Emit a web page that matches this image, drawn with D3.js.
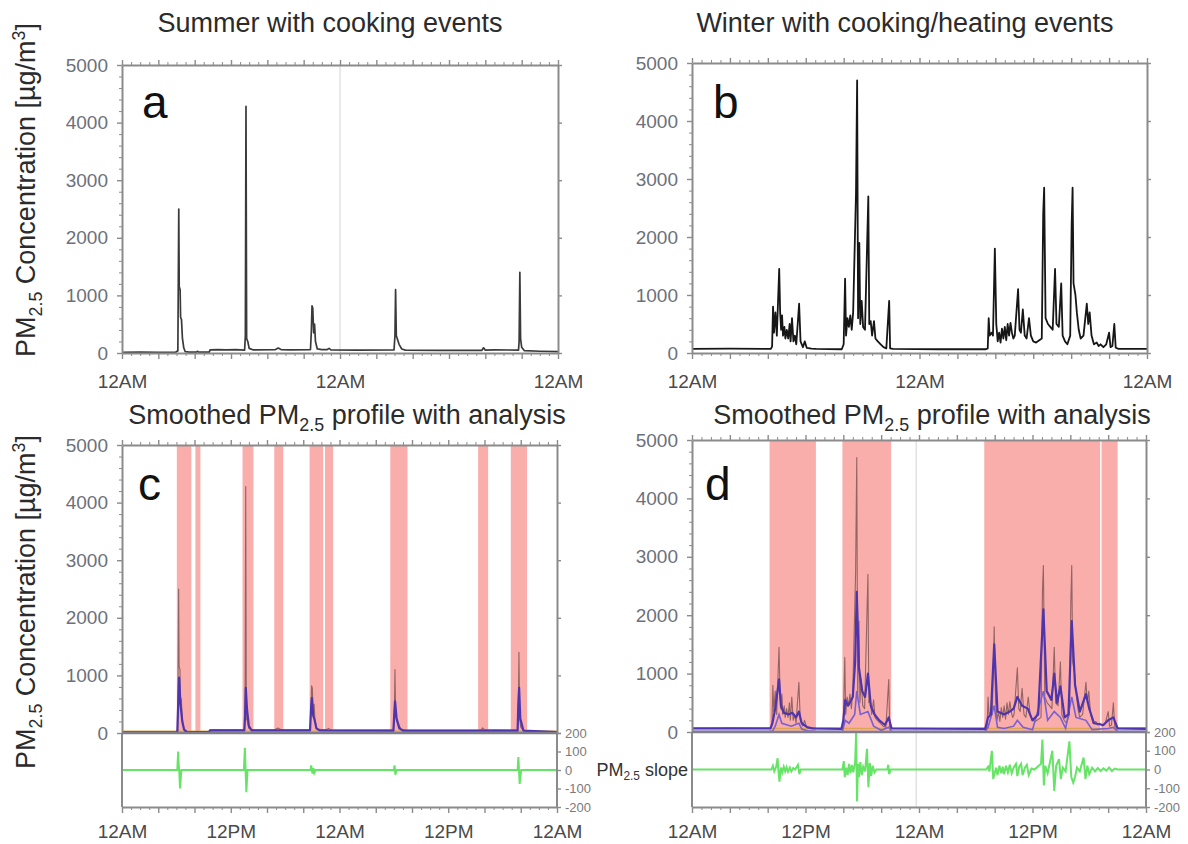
<!DOCTYPE html>
<html>
<head>
<meta charset="utf-8">
<script src="https://cdn.jsdelivr.net/npm/d3@7"></script>
<style>
  body { margin: 0; background: #fff; }
  svg { display: block; }
</style>
</head>
<body>
<div id="chart"></div>
<script>
// ---- data (hours since first midnight, PM2.5 in ug/m3) ----
const summerRaw = [
  [0,12],[2,14],[4,10],[5.9,12],[6.15,40],[6.25,2500],[6.3,1150],[6.4,1100],[6.45,620],[6.55,580],[6.65,260],[6.8,90],[6.95,25],
  [7.4,15],[8.2,15],[8.3,30],[8.45,15],[9.6,15],[9.7,55],[10.5,60],[11.5,55],[12.5,60],[13.5,50],[13.58,300],[13.65,4280],
  [13.72,250],[13.85,200],[14.0,80],[14.4,55],[16.9,60],[17.2,85],[17.5,60],[18.5,55],[20.75,60],[20.85,400],[20.92,820],
  [21.0,780],[21.1,350],[21.2,500],[21.3,200],[21.5,70],[22.0,60],[22.6,60],[22.8,80],[23.0,55],[26,50],[29.95,55],[30.05,300],
  [30.12,1100],[30.2,300],[30.3,250],[30.5,150],[30.8,70],[31.2,50],[35,45],[39.6,45],[39.8,90],[40.0,50],[41,55],[43.65,50],
  [43.72,200],[43.8,1400],[43.88,250],[44.0,100],[44.3,40],[46,30],[48,25]
];
const summerSmooth = [
  [0,10],[6.1,10],[6.22,600],[6.3,960],[6.45,500],[6.65,200],[6.85,60],[7.2,15],[9.6,15],[9.7,45],[13.5,45],[13.58,300],
  [13.66,785],[13.8,400],[14.0,120],[14.3,45],[20.75,45],[20.87,450],[20.95,610],[21.1,300],[21.25,230],[21.45,80],[21.8,45],
  [29.95,40],[30.05,350],[30.13,550],[30.3,250],[30.6,80],[31.0,40],[43.65,40],[43.73,500],[43.82,785],[43.95,250],[44.3,40],[48,15]
];
const summerBase = [[0,30],[48,30]];
const summerBands = [[6.05,7.65],[8.1,8.65],[13.3,14.5],[16.8,17.8],[20.7,22.2],[22.4,23.3],[29.6,31.5],[39.3,40.4],[42.9,44.7]];
const summerSlope = [
  [0,0],[6.1,0],[6.2,100],[6.27,15],[6.32,-5],[6.4,-100],[6.55,0],[13.45,0],[13.56,120],[13.63,10],[13.72,-120],[13.85,0],
  [20.8,0],[20.88,25],[20.95,0],[21.02,-20],[21.12,10],[21.22,-15],[21.35,0],[30.0,0],[30.08,25],[30.16,-25],[30.3,0],
  [43.65,0],[43.74,70],[43.8,5],[43.88,-75],[44.05,0],[48,0]
];

const winterRaw = [
  [0,70],[4,75],[8.3,70],[8.45,110],[8.55,800],[8.65,350],[8.8,700],[8.95,300],[9.2,1450],[9.3,700],[9.4,400],[9.5,650],
  [9.6,300],[9.75,450],[9.85,250],[10.0,400],[10.15,250],[10.3,500],[10.4,200],[10.55,600],[10.7,200],[10.85,300],[11.0,150],
  [11.3,850],[11.45,200],[11.7,100],[11.9,200],[12.1,90],[12.6,75],[13.1,70],[15.8,65],[16.0,150],[16.15,1280],[16.25,300],
  [16.4,600],[16.55,450],[16.7,650],[16.85,400],[17.0,700],[17.3,2750],[17.42,4700],[17.52,600],[17.65,1900],[17.75,500],
  [17.9,900],[18.05,450],[18.25,400],[18.6,2700],[18.7,500],[18.85,550],[19.0,300],[19.2,550],[19.35,250],[19.6,200],
  [19.9,150],[20.2,100],[20.5,80],[20.8,900],[20.9,80],[21.2,70],[26,65],[31.0,65],[31.2,80],[31.3,600],[31.4,300],[31.6,350],
  [31.75,300],[31.95,1800],[32.1,500],[32.25,200],[32.4,350],[32.55,180],[32.7,420],[32.85,250],[33.0,450],[33.15,220],
  [33.3,500],[33.45,300],[33.6,520],[33.75,350],[33.9,250],[34.05,300],[34.4,1100],[34.55,400],[34.7,350],[34.9,750],
  [35.1,300],[35.3,250],[35.55,600],[35.75,300],[36.0,200],[36.3,180],[36.9,250],[37.05,2400],[37.15,2850],[37.3,600],
  [37.55,500],[37.8,450],[38.05,400],[38.3,1450],[38.45,500],[38.7,450],[38.95,1200],[39.1,300],[39.35,200],[39.6,150],
  [39.9,300],[40.05,2200],[40.15,2850],[40.25,1200],[40.45,1000],[40.6,700],[40.8,400],[41.0,250],[41.3,300],[41.65,850],
  [41.8,500],[41.95,700],[42.15,300],[42.4,150],[42.7,180],[42.9,120],[43.1,150],[43.4,100],[43.7,150],[44.0,350],
  [44.15,100],[44.35,120],[44.55,500],[44.7,90],[45.0,70],[48,70]
];
const winterSmooth = [
  [0,60],[8.3,60],[8.5,150],[8.8,400],[9.2,900],[9.4,450],[9.7,330],[10.2,300],[10.6,330],[11.0,250],[11.3,350],[11.6,150],
  [12.2,80],[12.8,60],[15.8,55],[16.0,200],[16.2,550],[16.5,450],[17.0,600],[17.25,1200],[17.42,2400],[17.65,1100],[18.0,700],
  [18.3,600],[18.6,1000],[18.9,450],[19.3,300],[19.8,200],[20.4,120],[20.8,250],[21.1,60],[31.0,55],[31.3,250],[31.6,300],
  [31.95,1500],[32.3,350],[33.0,300],[33.6,350],[34.0,400],[34.4,600],[34.9,450],[35.5,400],[36.0,200],[36.6,300],[37.15,2100],
  [37.5,700],[38.0,550],[38.3,1000],[38.6,500],[38.95,780],[39.4,250],[39.8,300],[40.15,1900],[40.5,800],[41.0,350],
  [41.65,650],[42.0,400],[42.5,150],[43.5,120],[44.0,200],[44.55,250],[45.0,60],[48,55]
];
const winterLower = [
  [0,10],[8.5,10],[8.8,100],[9.2,300],[9.5,150],[10.5,100],[11.3,150],[11.6,50],[12.2,20],[13,10],[15.9,10],[16.2,200],
  [16.6,150],[17.2,300],[17.42,700],[17.8,300],[18.6,350],[19.2,100],[20,30],[20.8,80],[21.1,10],[31.0,10],[31.3,80],
  [31.95,450],[32.3,80],[33,60],[34,100],[34.4,200],[35,80],[36,40],[37.15,700],[37.6,200],[38.3,350],[38.95,250],[39.5,60],
  [40.15,600],[40.6,250],[41.65,200],[42.3,40],[44.0,60],[44.55,80],[45,10],[48,10]
];
const winterBase = [[0,60],[48,60]];
const winterBands = [[8.2,13.1],[15.9,21.05],[30.9,43.15],[43.3,45.0]];
const winterSlope = [
  [0,0],[8.4,0],[8.55,20],[8.7,-10],[8.9,15],[9.05,60],[9.15,-10],[9.25,-65],[9.4,10],[9.55,-15],[9.7,15],[9.85,-10],
  [10.0,12],[10.15,-12],[10.35,10],[10.5,-10],[10.7,8],[10.9,0],[11.2,25],[11.35,-25],[11.5,0],[15.9,0],[16.05,45],[16.15,-40],
  [16.3,10],[16.45,-30],[16.6,30],[16.75,-20],[16.9,25],[17.05,-15],[17.25,40],[17.35,195],[17.45,-170],[17.55,30],[17.65,-40],
  [17.8,40],[17.95,-30],[18.1,15],[18.3,-10],[18.5,110],[18.65,-95],[18.8,35],[18.95,-35],[19.1,20],[19.3,-15],[19.5,0],
  [20.65,0],[20.75,25],[20.85,-25],[21.0,0],[31.1,0],[31.3,15],[31.45,-10],[31.7,100],[31.85,-50],[32.0,-20],[32.15,10],
  [32.3,-30],[32.5,20],[32.7,-20],[32.85,15],[33.0,-25],[33.2,20],[33.4,-15],[33.6,25],[33.8,-20],[34.0,10],[34.25,30],
  [34.4,-35],[34.6,15],[34.8,30],[34.95,-30],[35.2,10],[35.4,25],[35.6,-30],[35.9,5],[36.2,0],[36.9,30],[37.05,160],
  [37.2,-85],[37.35,20],[37.6,-20],[37.85,40],[38.1,100],[38.3,-115],[38.5,20],[38.8,55],[39.0,-50],[39.2,10],[39.5,-10],
  [39.9,150],[40.1,-40],[40.3,-70],[40.5,-40],[40.7,10],[41.0,-10],[41.4,64],[41.6,-50],[41.8,20],[42.0,-25],[42.3,10],
  [42.6,-10],[42.9,8],[43.2,-8],[43.5,6],[43.8,-6],[44.1,10],[44.4,-8],[44.7,5],[45.0,0],[48,0]
];

// ---- tick labels ----
const dayTickHours = [0, 24, 48];
const dayTickLabels = ["12AM", "12AM", "12AM"];
const halfDayTickHours = [0, 12, 24, 36, 48];
const halfDayTickLabels = ["12AM", "12PM", "12AM", "12PM", "12AM"];
const concTicks = [0, 1000, 2000, 3000, 4000, 5000];
const slopeTicks = [200, 100, 0, -100, -200];

const FONT = '"Liberation Sans", Arial, Helvetica, sans-serif';
const AXIS = "#8b8b8b";
const TICKTXT = "#6c707b";

const svg = d3.select("#chart").append("svg")
  .attr("width", 1188).attr("height", 844)
  .attr("font-family", FONT);

function styleAxis(g, fs) {
  g.attr("font-family", FONT).attr("font-size", fs);
  g.select(".domain").attr("stroke", AXIS).attr("stroke-width", 2);
  g.selectAll(".tick line").attr("stroke", AXIS).attr("stroke-width", 1.4);
  g.selectAll(".tick text").attr("fill", TICKTXT);
}
function minorAxis(g) {
  g.select(".domain").remove();
  g.selectAll(".tick line").attr("stroke", AXIS).attr("stroke-width", 1);
  g.selectAll(".tick text").remove();
}

function subText(sel, parts, fs) {
  // parts: [text, kind] where kind = "", "sub", "sup"
  let shift = 0;
  parts.forEach(([t, k]) => {
    const target = k === "sub" ? fs * 0.25 : k === "sup" ? -fs * 0.38 : 0;
    sel.append("tspan").text(t)
      .attr("font-size", k ? fs * 0.66 : fs)
      .attr("dy", target - shift);
    shift = target;
  });
}

function drawPanel(p) {
  const x = d3.scaleLinear().domain([0, 48]).range([p.x0, p.x1]);
  const y = d3.scaleLinear().domain([0, 5000]).range([p.yZero, p.yTop]);
  const bottom = p.yBottom || p.yZero;
  const g = svg.append("g");

  // event bands
  if (p.bands) {
    g.selectAll("rect.band").data(p.bands).join("rect")
      .attr("class", "band")
      .attr("x", d => x(d[0])).attr("width", d => x(d[1]) - x(d[0]))
      .attr("y", y(5000)).attr("height", y(0) - y(5000))
      .attr("fill", "#f9aeac");
  }
  if (p.midnight) {
    g.append("line").attr("x1", x(p.midnight)).attr("x2", x(p.midnight))
      .attr("y1", y(5000)).attr("y2", bottom)
      .attr("stroke", "#d4d4d4").attr("stroke-width", 1);
  }

  const line = d3.line().x(d => x(d[0])).y(d => y(d[1]));
  if (p.base) {
    g.append("path").datum(p.base).attr("d", line)
      .attr("fill", "none").attr("stroke", "#dfa650").attr("stroke-width", 1.5);
  }
  g.append("path").datum(p.raw).attr("d", line)
    .attr("fill", "none").attr("stroke", p.rawColor)
    .attr("stroke-width", p.rawWidth).attr("stroke-linejoin", "round");
  if (p.lower) {
    g.append("path").datum(p.lower).attr("d", line)
      .attr("fill", "none").attr("stroke", "#7a5fd0").attr("stroke-width", 1.6);
  }
  if (p.smooth) {
    g.append("path").datum(p.smooth).attr("d", line)
      .attr("fill", "none").attr("stroke", "#4f35ad").attr("stroke-width", 2.2)
      .attr("stroke-linejoin", "round");
  }

  // slope sub panel
  let ys = null;
  if (p.slope) {
    ys = d3.scaleLinear().domain([-200, 200]).range([p.yBottom, p.yZero]);
    g.append("path").datum(p.slope)
      .attr("d", d3.line().x(d => x(d[0])).y(d => ys(d[1])))
      .attr("fill", "none").attr("stroke", "#66e466").attr("stroke-width", 2);
  }

  // axes
  const majorHours = d3.range(0, 49, 4);
  const minorHours = d3.range(0, 48, 1).filter(h => h % 4);
  const minorConc = d3.range(0, 5000, 200).filter(v => v % 1000);

  const fmtX = d => {
    const i = p.xTickHours.indexOf(d);
    return i >= 0 ? p.xTickLabels[i] : "";
  };
  const xb = g.append("g").attr("transform", `translate(0,${bottom})`)
    .call(d3.axisBottom(x).tickValues(majorHours).tickFormat(fmtX)
      .tickSize(6).tickSizeOuter(0).tickPadding(p.xPad));
  styleAxis(xb, 19);
  xb.selectAll(".tick text").attr("fill", "#4a4a4a");
  g.append("g").attr("transform", `translate(0,${bottom})`)
    .call(d3.axisBottom(x).tickValues(minorHours).tickSize(3)).call(minorAxis);

  const xt = g.append("g").attr("transform", `translate(0,${p.yTop})`)
    .call(d3.axisTop(x).tickValues(majorHours).tickFormat("").tickSize(5).tickSizeOuter(0));
  styleAxis(xt, 10);
  g.append("g").attr("transform", `translate(0,${p.yTop})`)
    .call(d3.axisTop(x).tickValues(minorHours).tickSize(3)).call(minorAxis);

  const yl = g.append("g").attr("transform", `translate(${p.x0},0)`)
    .call(d3.axisLeft(y).tickValues(concTicks).tickFormat(d3.format("d"))
      .tickSize(5).tickSizeOuter(0).tickPadding(9));
  styleAxis(yl, 19);
  g.append("g").attr("transform", `translate(${p.x0},0)`)
    .call(d3.axisLeft(y).tickValues(minorConc).tickSize(3)).call(minorAxis);

  const yr = g.append("g").attr("transform", `translate(${p.x1},0)`)
    .call(d3.axisRight(y).tickValues(concTicks).tickFormat("").tickSize(4).tickSizeOuter(0));
  styleAxis(yr, 10);

  if (ys) {
    // frame around slope strip
    [p.x0, p.x1].forEach(xx => {
      g.append("line").attr("x1", xx).attr("x2", xx).attr("y1", p.yZero).attr("y2", p.yBottom)
        .attr("stroke", AXIS).attr("stroke-width", 2);
    });
    g.append("line").attr("x1", p.x0).attr("x2", p.x1).attr("y1", p.yZero).attr("y2", p.yZero)
      .attr("stroke", "#7f7f8a").attr("stroke-width", 2.5);
    const sr = g.append("g").attr("transform", `translate(${p.x1},0)`)
      .call(d3.axisRight(ys).tickValues(slopeTicks).tickFormat(d => String(d))
        .tickSize(4).tickSizeOuter(0).tickPadding(4));
    styleAxis(sr, 13);
    sr.select(".domain").remove();
    sr.selectAll(".tick text").attr("fill", "#7a7a7a");

    if (p.slopeLabel) {
      const t = g.append("text").attr("x", p.x0 - 4).attr("y", ys(0) + 6)
        .attr("text-anchor", "end").attr("fill", "#333");
      subText(t, [["PM", ""], ["2.5", "sub"], [" slope", ""]], 18);
    }
  }

  // panel letter
  g.append("text").attr("x", p.lx).attr("y", p.ly)
    .attr("font-size", 46).attr("fill", "#111").text(p.letter);

  // title
  const tt = g.append("text").attr("x", p.tx).attr("y", p.ty)
    .attr("text-anchor", "middle").attr("fill", "#2b2b2b");
  subText(tt, p.title, 27);

  // y label
  if (p.yLabelY) {
    const yt = g.append("text")
      .attr("transform", `translate(35,${p.yLabelY}) rotate(-90)`)
      .attr("text-anchor", "middle").attr("fill", "#2b2b2b");
    subText(yt, [["PM", ""], ["2.5", "sub"], [" Concentration [µg/m", ""], ["3", "sup"], ["]", ""]], 27);
  }
}

drawPanel({
  x0: 122, x1: 558, yTop: 65, yZero: 353,
  raw: summerRaw, rawColor: "#3a3a3a", rawWidth: 1.7,
  xTickHours: dayTickHours, xTickLabels: dayTickLabels, xPad: 16,
  midnight: 24, letter: "a", lx: 142, ly: 118,
  title: [["Summer with cooking events", ""]], tx: 330, ty: 32, yLabelY: 190
});
drawPanel({
  x0: 692, x1: 1147, yTop: 63, yZero: 353,
  raw: winterRaw, rawColor: "#161616", rawWidth: 1.8,
  xTickHours: dayTickHours, xTickLabels: dayTickLabels, xPad: 16,
  letter: "b", lx: 713, ly: 118,
  title: [["Winter with cooking/heating events", ""]], tx: 905, ty: 32
});
drawPanel({
  x0: 122, x1: 557, yTop: 445, yZero: 733, yBottom: 807,
  raw: summerRaw, rawColor: "rgba(80,50,50,0.6)", rawWidth: 1.1,
  smooth: summerSmooth, base: summerBase, bands: summerBands, slope: summerSlope,
  xTickHours: halfDayTickHours, xTickLabels: halfDayTickLabels, xPad: 12,
  letter: "c", lx: 138, ly: 500,
  title: [["Smoothed PM", ""], ["2.5", "sub"], [" profile with analysis", ""]], tx: 347, ty: 424,
  yLabelY: 602
});
drawPanel({
  x0: 692, x1: 1146, yTop: 440, yZero: 732, yBottom: 807,
  raw: winterRaw, rawColor: "rgba(80,50,50,0.6)", rawWidth: 1.1,
  smooth: winterSmooth, lower: winterLower, base: winterBase, bands: winterBands, slope: winterSlope,
  xTickHours: halfDayTickHours, xTickLabels: halfDayTickLabels, xPad: 12,
  midnight: 23.7, letter: "d", lx: 705, ly: 500, slopeLabel: true,
  title: [["Smoothed PM", ""], ["2.5", "sub"], [" profile with analysis", ""]], tx: 932, ty: 424
});
</script>
</body>
</html>
